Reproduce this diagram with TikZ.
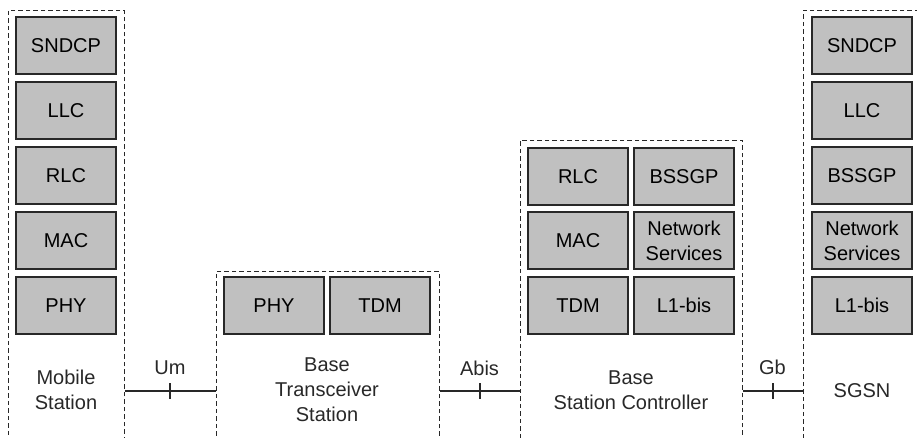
\documentclass[tikz,border=0pt]{standalone}
\usepackage{fontspec}
\setmainfont{Liberation Sans}
\usepackage{tikz}
\usetikzlibrary{positioning}

\definecolor{layergray}{RGB}{192,192,192}
\definecolor{linegray}{RGB}{40,40,40}

\begin{document}
\begin{tikzpicture}[
    x=1pt, y=-1pt,
    layer/.style={rectangle, draw=linegray, line width=1.3pt, fill=layergray, minimum width=100pt, minimum height=57pt, inner sep=0pt, align=center, font=\fontsize{20}{25}\selectfont},
    groupbox/.style={rectangle, draw=linegray, line width=0.9pt, dash pattern=on 4.5pt off 3pt, anchor=north west, inner sep=0pt},
    label/.style={align=center, font=\fontsize{20}{25}\selectfont, text=linegray},
    iface/.style={draw=linegray, line width=2pt}
]
\useasboundingbox (0,0) rectangle (917,438);

% === Mobile Station (left) ===
\node[groupbox, minimum width=116pt, minimum height=427.5pt] (ms) at (8,10) {};
\node[layer] (ms1) at (66,45.5) {SNDCP};
\node[layer] (ms2) at (66,110.5) {LLC};
\node[layer] (ms3) at (66,175.5) {RLC};
\node[layer] (ms4) at (66,240.5) {MAC};
\node[layer] (ms5) at (66,305.5) {PHY};
\node[label] (mstext) at (66,390) {Mobile\\Station};

% === Base Transceiver Station ===
\node[groupbox, minimum width=223pt, minimum height=166.5pt] (bts) at (216,271) {};
\node[layer] (bts1) at (274,305.5) {PHY};
\node[layer] (bts2) at (380,305.5) {TDM};
\node[label] (btstext) at (327,390) {Base\\Transceiver\\Station};

% === Base Station Controller ===
\node[groupbox, minimum width=222pt, minimum height=297.5pt] (bsc) at (520,140) {};
\node[layer] (bsc1) at (578,176.5) {RLC};
\node[layer] (bsc2) at (684,176.5) {BSSGP};
\node[layer] (bsc3) at (578,240.5) {MAC};
\node[layer] (bsc4) at (684,240.5) {Network\\Services};
\node[layer] (bsc5) at (578,305.5) {TDM};
\node[layer] (bsc6) at (684,305.5) {L1-bis};
\node[label] (bsctext) at (631,390) {Base\\Station Controller};

% === SGSN (right) ===
\node[groupbox, minimum width=118pt, minimum height=427.5pt] (sgsn) at (803,10) {};
\node[layer] (sgsn1) at (862,45.5) {SNDCP};
\node[layer] (sgsn2) at (862,110.5) {LLC};
\node[layer] (sgsn3) at (862,175.5) {BSSGP};
\node[layer] (sgsn4) at (862,240.5) {Network\\Services};
\node[layer] (sgsn5) at (862,305.5) {L1-bis};
\node[label] (sgsntext) at (862,391) {SGSN};

% === Interfaces ===
\coordinate (um) at (170,391);
\coordinate (abis) at (479.5,391);
\coordinate (gb) at (772.5,391);

\draw[iface] (um -| ms.east) -- (um -| bts.west);
\draw[iface] (um) ++(0,-8) -- ++(0,16);
\node[label] (umlabel) at (170,368) {Um};

\draw[iface] (abis -| bts.east) -- (abis -| bsc.west);
\draw[iface] (abis) ++(0,-8) -- ++(0,16);
\node[label] (abislabel) at (479.5,368) {Abis};

\draw[iface] (gb -| bsc.east) -- (gb -| sgsn.west);
\draw[iface] (gb) ++(0,-8) -- ++(0,16);
\node[label] (gblabel) at (772.5,367) {Gb};

\end{tikzpicture}
\end{document}
